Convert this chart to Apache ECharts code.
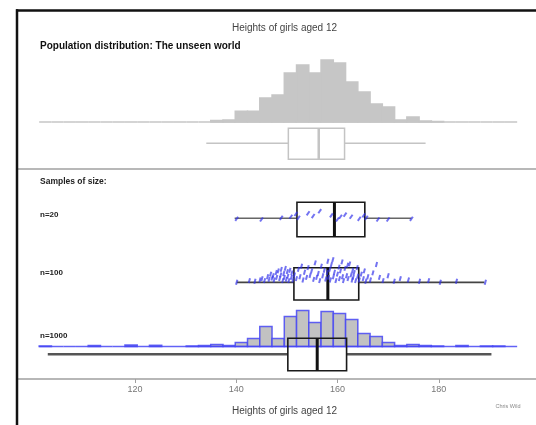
<!DOCTYPE html>
<html><head><meta charset="utf-8">
<script src="https://cdn.jsdelivr.net/npm/echarts@6/dist/echarts.min.js"></script>
<style>html,body{margin:0;padding:0;background:#fff}#c{width:536px;height:425px}</style>
</head><body><div id="c"></div>
<script>
// ---------------- data ----------------
const titleText = "Heights of girls aged 12";
const subTitle = "Population distribution: The unseen world";
const samplesLabel = "Samples of size:";
const sampleNames = ["n=20", "n=100", "n=1000"];
const xAxisName = "Heights of girls aged 12";
const creditText = "Chris Wild";
const xTicks = [120, 140, 160, 180];

const binStart = 101.1;
const binWidth = 2.42;
const popCounts = [0,0,0,0,0,0,0,0,0,0,0,0,0,0,
  1.5,2,10.7,10.7,24,27,49,57,49,62,59,40,30,18,15,2,5,1,0.5,
  0,0,0,0,0,0];
const n1000Counts = [0.5,0,0,0,1,0,0,1.5,0,1.2,0,0,0.5,1,
  2,1,4,8,20,8,30,36,24,35,33,27,13,10,4,1,2,1,0.5,
  0,1,0,0.5,0.5,0];

// boxes: [min, Q1, median, Q3, max]
const popBox = [134.1, 150.3, 156.3, 161.4, 177.4];
const n20Box = [139.7, 152.0, 159.4, 165.4, 174.6];
const n100Box = [140.1, 151.4, 158.1, 164.2, 189.0];
const n1000Box = [102.8, 150.2, 156.0, 161.8, 190.4];

const n20Values = [140.1,145.0,148.9,150.8,151.8,152.3,154.2,155.2,156.5,158.8,160.0,160.6,161.5,162.7,164.3,165.2,165.7,168.0,170.0,174.6];
const n20Jitter = [.52,.5,.55,.58,.66,.55,.68,.6,.74,.62,.5,.58,.64,.58,.52,.62,.55,.5,.5,.52];

const n100Values = [140.1,142.6,143.7,144.7,145.1,145.6,146.2,146.5,146.8,147.1,
  147.3,147.5,147.9,148.0,148.3,148.6,148.8,148.9,149.2,149.4,
  149.5,149.7,149.9,150.1,150.2,150.4,150.6,150.9,151.0,151.2,
  151.5,151.9,152.3,152.6,152.9,153.2,153.5,153.9,154.2,154.6,
  154.9,155.3,155.6,155.9,156.2,156.5,156.8,157.1,157.4,157.7,
  158.0,158.1,158.2,158.5,158.6,158.8,159.1,159.2,159.4,159.7,
  160.0,160.3,160.4,160.6,160.9,161.0,161.2,161.5,161.8,162.0,
  162.1,162.4,162.7,162.9,163.0,163.1,163.3,163.6,163.9,164.0,
  164.3,164.7,165.1,165.3,165.6,166.0,166.5,167.0,167.7,168.3,
  169.0,170.0,171.2,172.4,174.0,176.2,178.0,180.3,183.5,189.2];
const n100Jitter = [.55,.6,.58,.62,.66,.6,.72,.64,.8,.68,
  .75,.62,.85,.7,.9,.66,.78,.95,.6,.82,
  .7,.98,.64,.88,.74,.6,.92,.7,.84,.62,
  .78,.66,.95,.72,1.05,.62,.86,.7,1.0,.76,
  .9,.64,1.15,.7,.82,.6,1.05,.75,.92,.65,
  .85,1.2,.7,.95,.62,1.1,1.25,.72,.86,.6,
  .8,1.02,.66,.9,1.18,.72,.6,.98,.75,1.08,
  .66,1.12,.78,.62,.92,.7,.85,.6,1.0,.74,
  .62,.8,.66,.9,.58,.72,.62,.84,1.1,.7,
  .6,.75,.58,.66,.62,.58,.6,.55,.58,.55];

// ---------------- chart ----------------
const FONT = "'Liberation Sans', Arial, Helvetica, sans-serif";
const X_MIN = 97, X_MAX = 199.2;
const gridDefs = [
  {top: 52, height: 70, ymax: 70},      // population histogram
  {top: 128.3, height: 31, ymax: 1},    // population box
  {top: 202.3, height: 34.4, ymax: 1},  // n=20
  {top: 267.7, height: 32.3, ymax: 1},  // n=100
  {top: 305, height: 41.5, ymax: 41.5}, // n=1000 histogram
  {top: 338.3, height: 32.4, ymax: 1},  // n=1000 box
  {top: 10, height: 369, ymax: 1}       // axis
];

const grid = gridDefs.map(g => ({left: 18.4, width: 518.2, top: g.top, height: g.height, containLabel: false}));
const xAxis = gridDefs.map((g, i) => {
  const a = {type: 'value', gridIndex: i, min: X_MIN, max: X_MAX, show: i === 6, splitLine: {show: false}};
  if (i === 6) {
    a.axisLine = {show: true, lineStyle: {color: '#a0a0a0', width: 1.5}};
    a.axisTick = {show: true, customValues: xTicks, length: 4, lineStyle: {color: '#a0a0a0', width: 1}};
    a.axisLabel = {show: true, customValues: xTicks, color: '#777', fontSize: 9, fontFamily: FONT, margin: 6};
  }
  return a;
});
const yAxis = gridDefs.map((g, i) => ({type: 'value', gridIndex: i, min: 0, max: g.ymax, show: false}));

function histData(counts) {
  return counts.map((c, k) => [binStart + k * binWidth, binStart + (k + 1) * binWidth, c]);
}
function histRenderer(fill, stroke, lw) {
  return function (params, api) {
    const p0 = api.coord([api.value(0), 0]);
    const p1 = api.coord([api.value(1), api.value(2)]);
    const children = [];
    if (p0[1] - p1[1] > 0.01) {
      children.push({type: 'rect', shape: {x: p0[0], y: p1[1], width: p1[0] - p0[0], height: p0[1] - p1[1]},
        style: {fill: fill, stroke: stroke, lineWidth: lw}});
    }
    children.push({type: 'line', shape: {x1: p0[0], y1: p0[1], x2: p1[0], y2: p0[1]},
      style: {stroke: stroke, lineWidth: lw}});
    return {type: 'group', children: children};
  };
}
function boxRenderer(o) {
  return function (params, api) {
    const v = [0, 1, 2, 3, 4].map(i => api.value(i));
    const top = api.coord([v[1], 1])[1];
    const bot = api.coord([v[1], 0])[1];
    const wy = bot + (top - bot) * o.wFrac;
    const xs = v.map(val => api.coord([val, 0])[0]);
    return {type: 'group', children: [
      {type: 'line', shape: {x1: xs[0], y1: wy, x2: xs[1], y2: wy}, style: {stroke: o.whisk, lineWidth: o.wlw}},
      {type: 'line', shape: {x1: xs[3], y1: wy, x2: xs[4], y2: wy}, style: {stroke: o.whisk, lineWidth: o.wlw}},
      {type: 'rect', shape: {x: xs[1], y: top, width: xs[3] - xs[1], height: bot - top},
        style: {fill: o.fill, stroke: o.stroke, lineWidth: o.lw}},
      {type: 'line', shape: {x1: xs[2], y1: top, x2: xs[2], y2: bot}, style: {stroke: o.med, lineWidth: o.mlw}}
    ]};
  };
}

const pointColor = 'rgba(50,50,235,0.85)';
const series = [
  {type: 'custom', xAxisIndex: 0, yAxisIndex: 0, data: histData(popCounts),
    renderItem: histRenderer('#c6c6c6', '#c6c6c6', 1.5), silent: true},
  {type: 'custom', xAxisIndex: 1, yAxisIndex: 1, data: [popBox],
    renderItem: boxRenderer({wFrac: 0.516, whisk: '#c4c4c4', wlw: 1.5, fill: '#fff', stroke: '#c4c4c4', lw: 1.5, med: '#c4c4c4', mlw: 2.5})},
  {type: 'custom', xAxisIndex: 2, yAxisIndex: 2, data: [n20Box], z: 2,
    renderItem: boxRenderer({wFrac: 0.535, whisk: '#666', wlw: 1.5, fill: 'rgba(255,255,255,0)', stroke: '#1a1a1a', lw: 1.6, med: '#111', mlw: 3})},
  {type: 'scatter', xAxisIndex: 2, yAxisIndex: 2, z: 3, clip: false,
    data: n20Values.map((v, i) => [v, n20Jitter[i]]),
    symbol: 'rect', symbolSize: [2, 5], symbolRotate: -35, itemStyle: {color: pointColor}},
  {type: 'custom', xAxisIndex: 3, yAxisIndex: 3, data: [n100Box], z: 2,
    renderItem: boxRenderer({wFrac: 0.548, whisk: '#444', wlw: 1.8, fill: 'rgba(255,255,255,0)', stroke: '#1a1a1a', lw: 1.6, med: '#111', mlw: 3})},
  {type: 'scatter', xAxisIndex: 3, yAxisIndex: 3, z: 3, clip: false,
    data: n100Values.map((v, i) => [v, n100Jitter[i]]),
    symbol: 'rect', symbolSize: [2, 5], symbolRotate: -15, itemStyle: {color: pointColor}},
  {type: 'custom', xAxisIndex: 4, yAxisIndex: 4, data: histData(n1000Counts), z: 2,
    renderItem: histRenderer('#c2c2c2', 'rgba(70,70,245,0.85)', 1.5), silent: true},
  {type: 'custom', xAxisIndex: 5, yAxisIndex: 5, data: [n1000Box], z: 3,
    renderItem: boxRenderer({wFrac: 0.506, whisk: '#555', wlw: 2.5, fill: 'rgba(255,255,255,0)', stroke: '#1a1a1a', lw: 1.6, med: '#111', mlw: 3})}
];

function txt(x, y, text, size, color, weight, align) {
  return {type: 'text', x: x, y: y, z: 10, silent: true,
    style: {text: text, fill: color, font: (weight || 'normal') + ' ' + size + 'px ' + FONT,
      textAlign: align || 'left', textVerticalAlign: 'middle', align: align || 'left', verticalAlign: 'middle'}};
}

const graphic = [
  {type: 'line', shape: {x1: 17, y1: 9.3, x2: 17, y2: 425}, style: {stroke: '#111', lineWidth: 2.5}, z: 10},
  {type: 'line', shape: {x1: 16, y1: 10.5, x2: 536, y2: 10.5}, style: {stroke: '#111', lineWidth: 2.5}, z: 10},
  {type: 'line', shape: {x1: 18, y1: 169, x2: 536, y2: 169}, style: {stroke: '#b8b8b8', lineWidth: 2}, z: 1},
  txt(284.5, 28.3, titleText, 10, '#444', 'normal', 'center'),
  txt(40, 46.7, subTitle, 10, '#111', 'bold'),
  txt(40, 182, samplesLabel, 8.5, '#222', 'bold'),
  txt(40, 214.3, sampleNames[0], 8, '#222', 'bold'),
  txt(40, 272.5, sampleNames[1], 8, '#222', 'bold'),
  txt(40, 335.5, sampleNames[2], 8, '#222', 'bold'),
  txt(284.5, 411, xAxisName, 10, '#444', 'normal', 'center'),
  txt(508, 406, creditText, 5.5, '#888', 'normal', 'center')
];

const chart = echarts.init(document.getElementById('c'), null, {renderer: 'canvas'});
chart.setOption({
  animation: false,
  backgroundColor: '#fff',
  grid: grid, xAxis: xAxis, yAxis: yAxis, series: series, graphic: graphic
});
</script>
</body></html>
